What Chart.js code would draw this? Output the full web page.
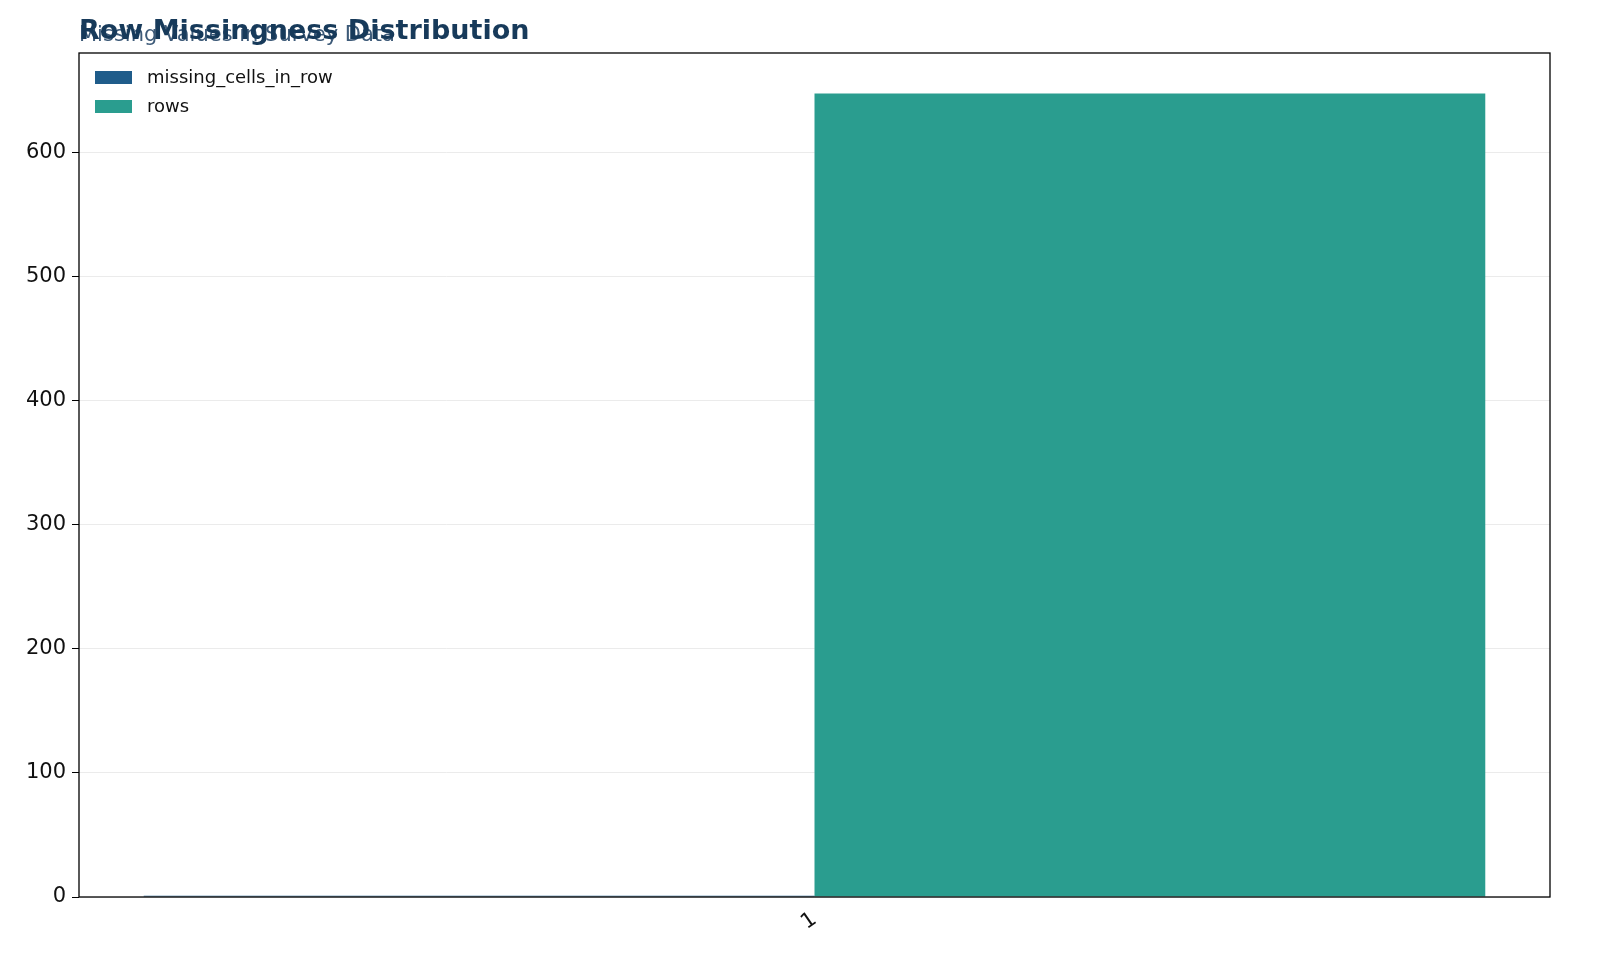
<!DOCTYPE html>
<html><head><meta charset="utf-8">
<script src="https://cdn.jsdelivr.net/npm/chart.js@4/dist/chart.umd.min.js"></script>
<style>html,body{margin:0;padding:0;background:#fff}#w{width:1600px;height:978px}</style>
</head><body><div id="w"><canvas id="c"></canvas></div>
<script>
const categories = ["1"];
const missingCells = [1];
const rowsCount = [648];
const yTicks = [0,100,200,300,400,500,600];
const titleText = "Row Missingness Distribution";
const subtitleText = "Missing Values in Survey Data";

const overlay = {
  id:'overlay',
  afterDraw(chart){
    const ctx = chart.ctx, a = chart.chartArea;
    ctx.save();
    ctx.fillStyle = '#3d5a78';
    ctx.font = '21px "DejaVu Sans"';
    ctx.textBaseline = 'alphabetic';
    ctx.fillText(subtitleText, a.left, 41);
    ctx.font = 'bold 27px "DejaVu Sans"';
    ctx.fillStyle = '#173a5a';
    ctx.fillText(titleText, a.left, 39);
    ctx.strokeStyle = '#000'; ctx.lineWidth = 1.3;
    ctx.strokeRect(a.left, a.top, a.right - a.left, a.bottom - a.top);
    ctx.font = '18px "DejaVu Sans"';
    chart.data.datasets.forEach((d,i)=>{
      const y = a.top + 25 + i*29;
      ctx.fillStyle = d.backgroundColor;
      ctx.fillRect(a.left+16, y-7, 37, 13);
      ctx.fillStyle = '#111';
      ctx.textBaseline = 'middle';
      ctx.fillText(d.label, a.left+68, y);
    });
    ctx.restore();
  }
};

new Chart(document.getElementById('c'), {
  type:'bar',
  data:{labels:categories, datasets:[
    {label:'missing_cells_in_row', data:missingCells, backgroundColor:'#1f5c8a'},
    {label:'rows', data:rowsCount, backgroundColor:'#2a9d8f'}
  ]},
  options:{
    responsive:true, maintainAspectRatio:false, animation:false,
    layout:{padding:{top:53,right:50,left:0,bottom:0}},
    plugins:{legend:{display:false}, title:{display:false}, tooltip:{enabled:false}},
    datasets:{bar:{categoryPercentage:0.912, barPercentage:1}},
    scales:{
      x:{grid:{display:false, drawTicks:true, tickLength:7, tickColor:'#000'}, border:{display:false},
         ticks:{color:'#111', font:{size:21, family:'DejaVu Sans'}, minRotation:35, maxRotation:35},
         afterFit(s){s.height = 81;}},
      y:{min:0, max:680.6, grid:{color:'#ebebeb', tickLength:7, tickColor:'#000'}, border:{display:false},
         afterBuildTicks(s){s.ticks = yTicks.map(v=>({value:v}));},
         ticks:{color:'#111', font:{size:21, family:'DejaVu Sans'}, padding:6},
         afterFit(s){s.width = 79;}}
    }
  },
  plugins:[overlay]
});
</script></body></html>
